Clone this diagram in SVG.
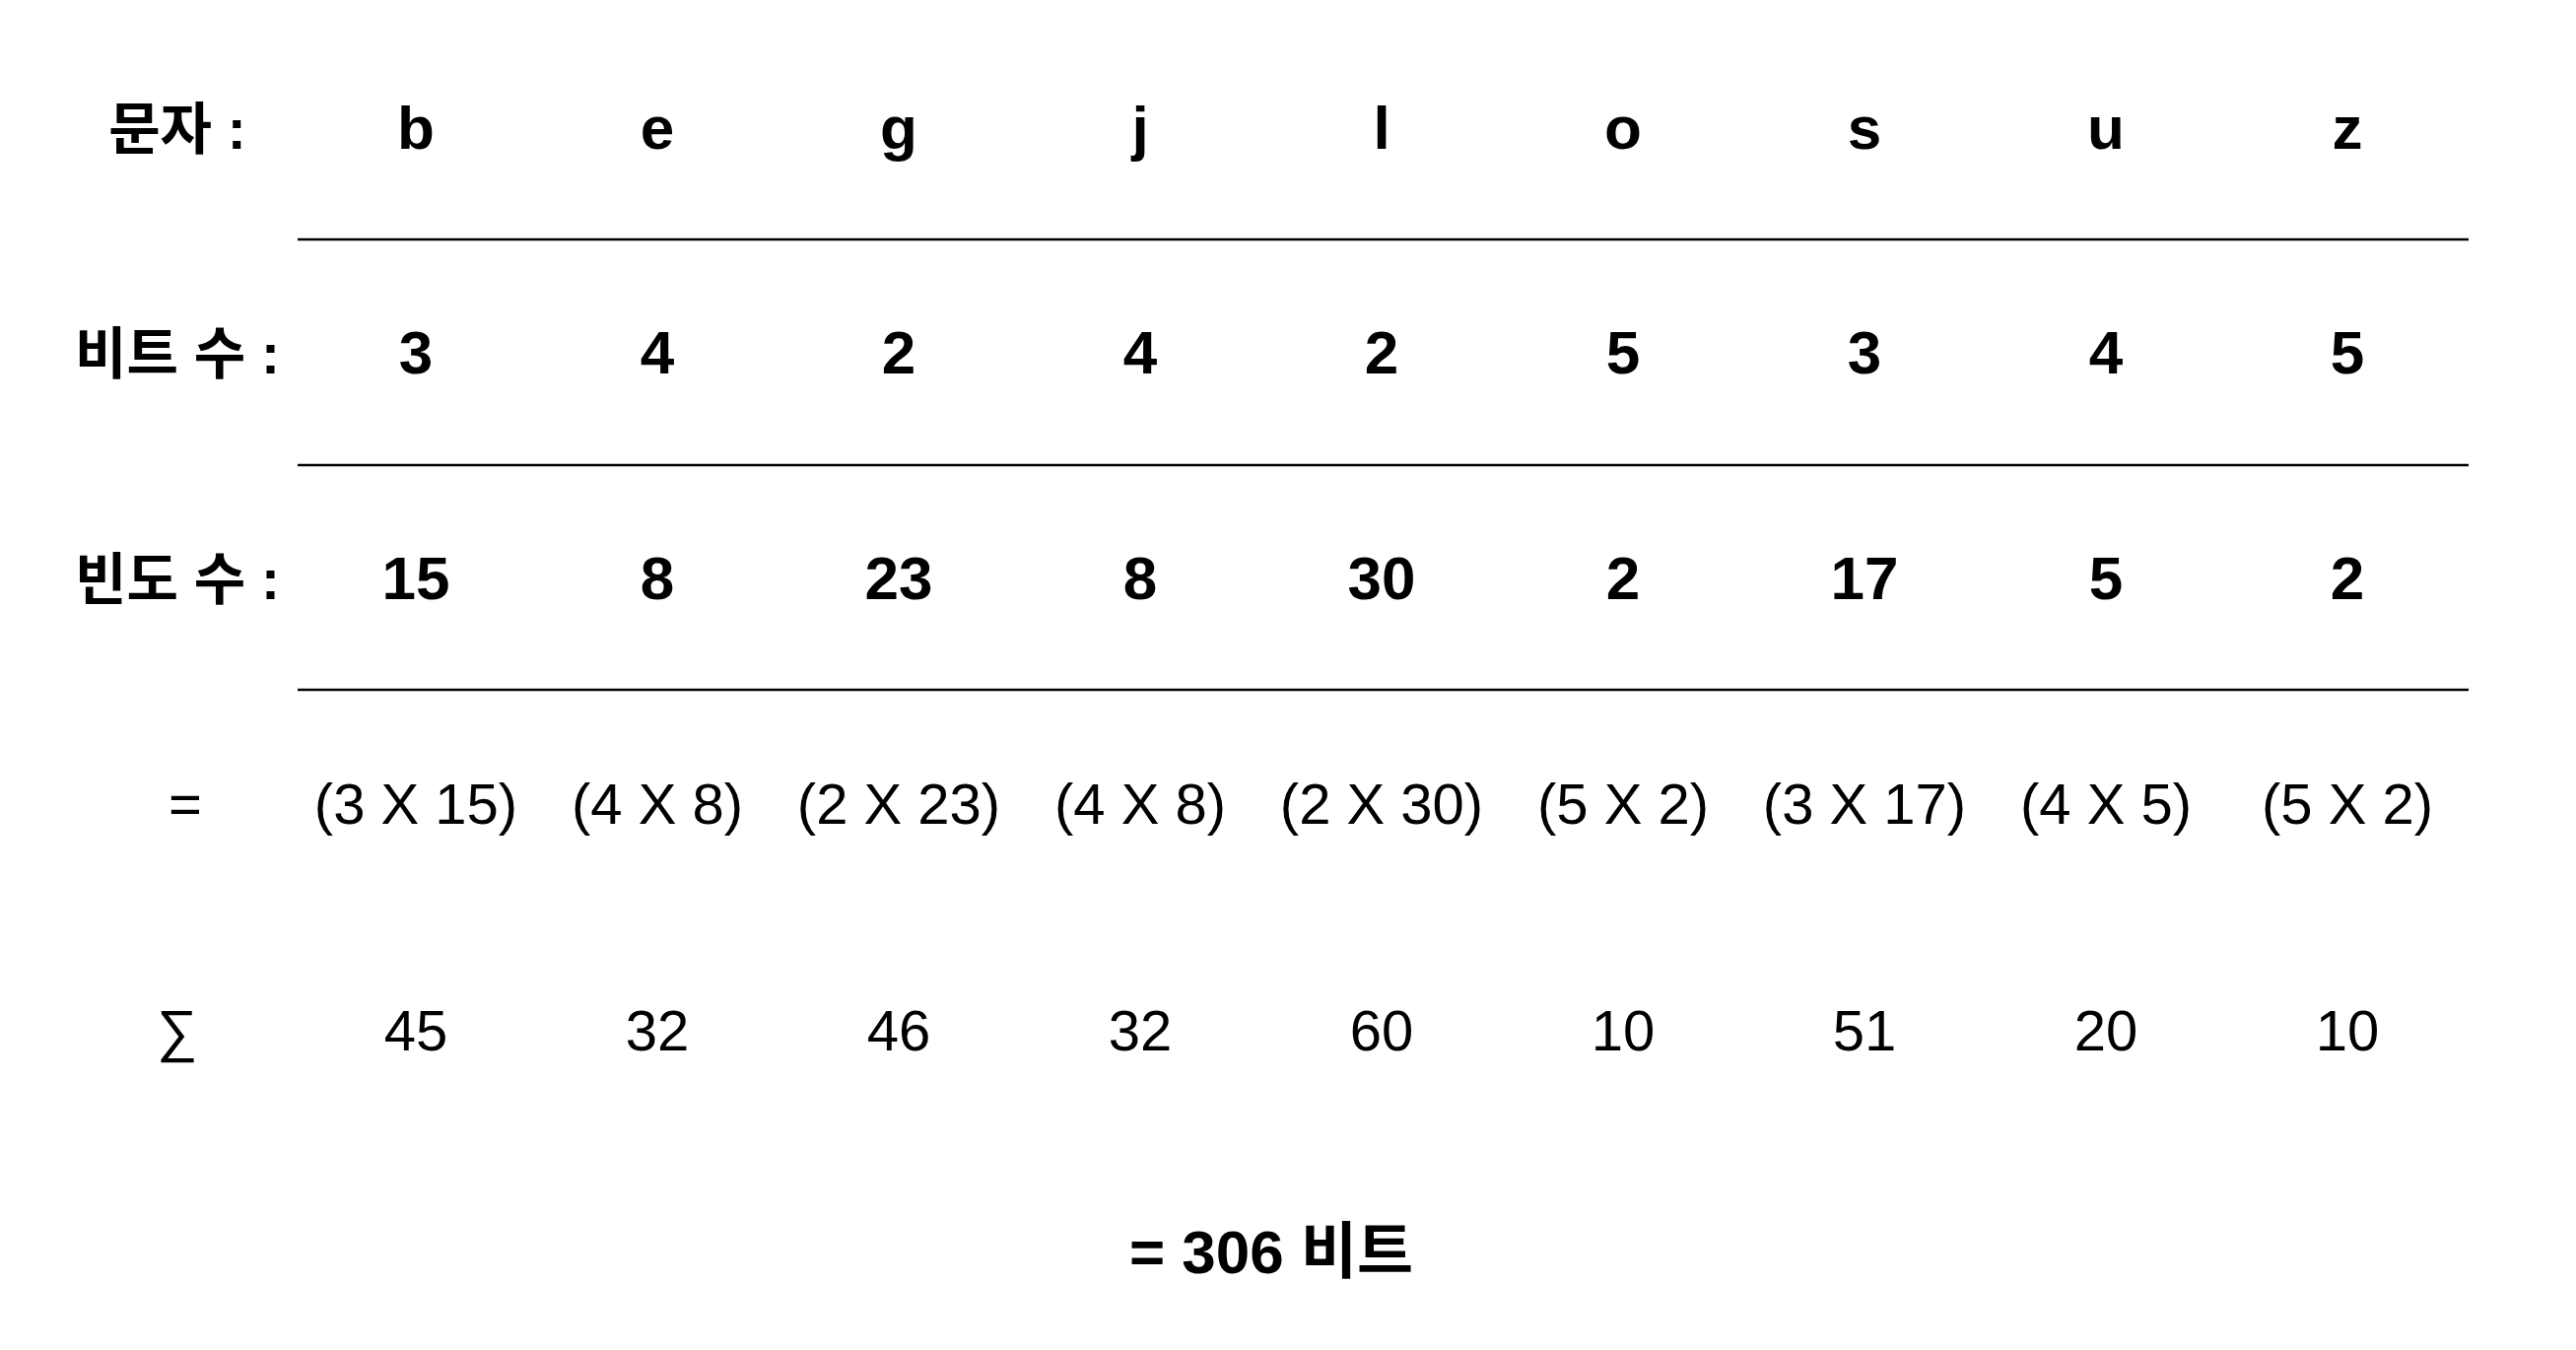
<svg xmlns="http://www.w3.org/2000/svg" width="2614" height="1370" viewBox="0 0 2614 1370">
<style>
text{font-family:"Liberation Sans","Noto Sans CJK KR",sans-serif;fill:#000;text-anchor:middle}
.b{font-weight:bold;font-size:62px}
.lbl{font-weight:bold;font-size:57px}
.r{font-weight:normal;font-size:58px}
.rule{stroke:#000;stroke-width:2.5}
</style>
<rect width="2614" height="1370" fill="#fff"/>
<g id="rules">
<line class="rule" x1="302" y1="243" x2="2505" y2="243"/>
<line class="rule" x1="302" y1="472" x2="2505" y2="472"/>
<line class="rule" x1="302" y1="700" x2="2505" y2="700"/>
</g>
<g id="labels">
<text class="lbl" x="180" y="151">문자 :</text>
<text class="lbl" x="180" y="379">비트 수 :</text>
<text class="lbl" x="180" y="608">빈도 수 :</text>
<text class="r" x="188" y="836">=</text>
<text class="r" x="180" y="1066">∑</text>
</g>
<g id="row-chars">
<text class="b" x="422" y="151">b</text>
<text class="b" x="667" y="151">e</text>
<text class="b" x="912" y="151">g</text>
<text class="b" x="1157" y="151">j</text>
<text class="b" x="1402" y="151">l</text>
<text class="b" x="1647" y="151">o</text>
<text class="b" x="1892" y="151">s</text>
<text class="b" x="2137" y="151">u</text>
<text class="b" x="2382" y="151">z</text>
</g>
<g id="row-bits">
<text class="b" x="422" y="379">3</text>
<text class="b" x="667" y="379">4</text>
<text class="b" x="912" y="379">2</text>
<text class="b" x="1157" y="379">4</text>
<text class="b" x="1402" y="379">2</text>
<text class="b" x="1647" y="379">5</text>
<text class="b" x="1892" y="379">3</text>
<text class="b" x="2137" y="379">4</text>
<text class="b" x="2382" y="379">5</text>
</g>
<g id="row-freq">
<text class="b" x="422" y="608">15</text>
<text class="b" x="667" y="608">8</text>
<text class="b" x="912" y="608">23</text>
<text class="b" x="1157" y="608">8</text>
<text class="b" x="1402" y="608">30</text>
<text class="b" x="1647" y="608">2</text>
<text class="b" x="1892" y="608">17</text>
<text class="b" x="2137" y="608">5</text>
<text class="b" x="2382" y="608">2</text>
</g>
<g id="row-products">
<text class="r" x="422" y="836">(3 X 15)</text>
<text class="r" x="667" y="836">(4 X 8)</text>
<text class="r" x="912" y="836">(2 X 23)</text>
<text class="r" x="1157" y="836">(4 X 8)</text>
<text class="r" x="1402" y="836">(2 X 30)</text>
<text class="r" x="1647" y="836">(5 X 2)</text>
<text class="r" x="1892" y="836">(3 X 17)</text>
<text class="r" x="2137" y="836">(4 X 5)</text>
<text class="r" x="2382" y="836">(5 X 2)</text>
</g>
<g id="row-sums">
<text class="r" x="422" y="1066">45</text>
<text class="r" x="667" y="1066">32</text>
<text class="r" x="912" y="1066">46</text>
<text class="r" x="1157" y="1066">32</text>
<text class="r" x="1402" y="1066">60</text>
<text class="r" x="1647" y="1066">10</text>
<text class="r" x="1892" y="1066">51</text>
<text class="r" x="2137" y="1066">20</text>
<text class="r" x="2382" y="1066">10</text>
</g>
<g id="total">
<text class="b" x="1290" y="1292">= 306 비트</text>
</g>
</svg>
